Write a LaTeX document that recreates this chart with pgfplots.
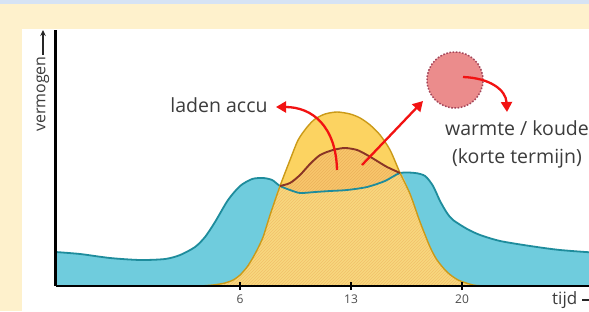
\documentclass[border=0pt]{standalone}
\usepackage{pgfplots}
\pgfplotsset{compat=1.18}
\usepackage{fontspec}
\setmainfont{Open Sans}
\usetikzlibrary{arrows.meta,patterns}
\definecolor{bgcream}{HTML}{FEF1CC}
\definecolor{bgblue}{HTML}{D6E3F4}
\definecolor{bluefill}{HTML}{6FCCDD}
\definecolor{blueline}{HTML}{1E8C9C}
\definecolor{yelfill}{HTML}{FCD361}
\definecolor{yelline}{HTML}{CB9A18}
\definecolor{lowfill}{HTML}{F8D77E}
\definecolor{orafill}{HTML}{F8C66C}
\definecolor{hatch}{HTML}{F2C06A}
\definecolor{hatchb}{HTML}{EDB25A}
\definecolor{brownline}{HTML}{8A3526}
\definecolor{arrred}{HTML}{F21212}
\definecolor{circfill}{HTML}{EB8C8C}
\definecolor{circline}{HTML}{A4465A}
\definecolor{txt}{HTML}{3C3C3C}
\begin{document}
\begin{tikzpicture}[x=1pt,y=1pt]
\useasboundingbox (0,0) rectangle (589,311);
\clip (0,0) rectangle (589,311);
\fill[bgcream] (0,0) rectangle (589,311);
\fill[bgblue] (0,307) rectangle (589,311);
\fill[white] (22,0) rectangle (589,282);
\begin{axis}[
  at={(55.5pt,25pt)}, anchor=south west,
  x=15.857pt, y=1pt,
  xmin=-5.64, xmax=30, ymin=0, ymax=256,
  axis x line=bottom, axis y line=left,
  axis line style={line width=2.2pt, -},
  axis on top=true,
  xtick={6,13,20}, ytick=\empty,
  major tick length=8pt,
  xtick style={line width=1.2pt, black},
  tick align=center,
  xticklabel style={font=\fontsize{12}{13}\selectfont, text=black!70, yshift=-1pt},
  /pgf/number format/assume math mode=true,
  clip=false,
]
% consumption (blue) area
\addplot[draw=none, fill=bluefill, smooth, tension=0.45] coordinates {
(-5.64,34) (-4.09,32) (-2.20,28) (-0.31,26) (1.27,27) (2.22,31) (3.16,39) (3.79,49)
(4.42,64) (5.24,86) (6.00,100) (6.76,107) (7.45,108) (8.02,106) (8.52,100) (9.15,96)
(9.78,93) (10.73,94) (11.68,95) (12.75,96) (14.01,99) (15.14,105) (16.09,113) (17.04,113)
(17.67,110) (18.17,100) (18.61,85) (19.05,73) (19.43,66) (20.32,57) (21.14,51) (22.40,45) (24.29,40)
(26.18,36) (28.70,33) (30,32)} \closedcycle;
% solar (yellow) area
\addplot[draw=none, fill=yelfill, smooth, tension=0.45] coordinates {
(3.48,0) (4.30,1) (5.05,3) (5.56,6) (6.00,11) (6.44,19) (6.76,27) (7.07,36) (7.45,49)
(7.89,71) (8.52,100) (9.15,126) (9.66,146) (10.23,159) (10.73,167) (11.36,172) (12.12,174)
(12.94,172) (13.57,168) (14.20,161) (14.83,151) (15.46,136) (16.09,113) (16.72,92)
(17.35,64) (17.98,39) (18.42,26) (19.05,14) (19.75,6) (20.69,1) (21.45,0)} \closedcycle;
% solar used directly (below blue)
\addplot[draw=none, fill=lowfill, smooth, tension=0.45,
  postaction={pattern=north east lines, pattern color=hatch}] coordinates {
(3.48,0) (4.30,1) (5.05,3) (5.56,6) (6.00,11) (6.44,19) (6.76,27) (7.07,36) (7.45,49)
(7.89,71) (8.52,100) (9.15,96) (9.78,93) (10.73,94) (11.68,95) (12.75,96) (14.01,99)
(15.14,105) (16.09,113) (16.72,92) (17.35,64) (17.98,39) (18.42,26) (19.05,14) (19.75,6)
(20.69,1) (21.45,0)} \closedcycle;
% battery charging region (between brown and blue)
\addplot[draw=none, fill=orafill, smooth, tension=0.45,
  postaction={pattern=north east lines, pattern color=hatchb}] coordinates {
(8.52,100) (9.15,103) (9.78,111) (10.41,122) (11.05,131) (11.86,136) (12.62,138)
(13.38,136) (14.01,131) (14.64,125) (15.27,119) (16.09,113) (15.14,105) (14.01,99)
(12.75,96) (11.68,95) (10.73,94) (9.78,93) (9.15,96)} -- cycle;
% lines
\addplot[blueline, line width=1.8pt, smooth, tension=0.45] coordinates {
(-5.64,34) (-4.09,32) (-2.20,28) (-0.31,26) (1.27,27) (2.22,31) (3.16,39) (3.79,49)
(4.42,64) (5.24,86) (6.00,100) (6.76,107) (7.45,108) (8.02,106) (8.52,100) (9.15,96)
(9.78,93) (10.73,94) (11.68,95) (12.75,96) (14.01,99) (15.14,105) (16.09,113) (17.04,113)
(17.67,110) (18.17,100) (18.61,85) (19.05,73) (19.43,66) (20.32,57) (21.14,51) (22.40,45) (24.29,40)
(26.18,36) (28.70,33) (30,32)};
\addplot[yelline, line width=1.4pt, smooth, tension=0.45] coordinates {
(3.48,0) (4.30,1) (5.05,3) (5.56,6) (6.00,11) (6.44,19) (6.76,27) (7.07,36) (7.45,49)
(7.89,71) (8.52,100) (9.15,126) (9.66,146) (10.23,159) (10.73,167) (11.36,172) (12.12,174)
(12.94,172) (13.57,168) (14.20,161) (14.83,151) (15.46,136) (16.09,113) (16.72,92)
(17.35,64) (17.98,39) (18.42,26) (19.05,14) (19.75,6) (20.69,1) (21.45,0)};
\addplot[brownline, line width=1.9pt, smooth, tension=0.45] coordinates {
(8.52,100) (9.15,103) (9.78,111) (10.41,122) (11.05,131) (11.86,136) (12.62,138)
(13.38,136) (14.01,131) (14.64,125) (15.27,119) (16.09,113)};
\end{axis}
% y label
\node[rotate=90, anchor=east, text=txt, font=\fontsize{16}{17}\selectfont, inner sep=0pt]
  at (43,255) {vermogen};
\draw[-{Stealth[length=6pt,width=5.5pt]}, line width=1.2pt, black!85] (43,256) -- (43,281);
% x label
\node[anchor=west, text=txt, font=\fontsize{17}{18}\selectfont, inner sep=0pt] at (552,11) {tijd};
\draw[line width=1.2pt, black!85] (582,11) -- (600,11);
% annotations
\node[text=txt, font=\fontsize{19.5}{21}\selectfont, inner sep=0pt] at (219,206) {laden accu};
\node[text=txt, font=\fontsize{19.5}{28}\selectfont, align=center, inner sep=0pt] at (517,167)
  {warmte / koude\\(korte termijn)};
\draw[arrred, line width=2.3pt, -{Triangle[length=10pt,width=11pt]}]
  (337,141) .. controls (336,185) and (312,204) .. (276,204);
\draw[arrred, line width=2.3pt, -{Triangle[length=10pt,width=11pt]}]
  (362,146) -- (423,210);
\draw[circline, fill=circfill, line width=1.5pt, dash pattern=on 1.6pt off 1.6pt]
  (455,231) circle (28);
\draw[arrred, line width=2.3pt, -{Triangle[length=10pt,width=11pt]}]
  (463,234) .. controls (490,233) and (506,221) .. (507,199);
\end{tikzpicture}
\end{document}
